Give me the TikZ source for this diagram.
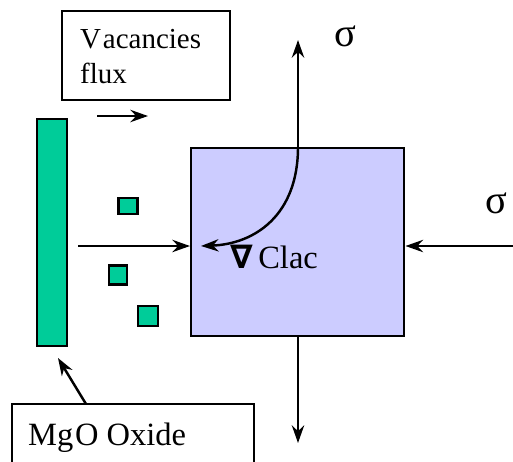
\documentclass[tikz,border=0pt]{standalone}
\usepackage{amsmath,amssymb}
\usepackage{fontspec}
\setmainfont{Liberation Serif}
\newfontfamily\serif{Liberation Serif}
\newfontfamily\symb{DejaVu Sans}
\usepackage{tikz}
\usetikzlibrary{positioning,calc,arrows.meta}
\usepackage{xcolor}
\definecolor{oxyde}{RGB}{0,204,153}
\definecolor{grain}{RGB}{204,204,255}

\begin{document}
\begin{tikzpicture}[x=0.02cm,y=-0.02cm,line width=1.4pt,
    boite/.style={rectangle,draw,inner sep=0pt},
    lacune/.style={rectangle,draw,fill=oxyde,inner sep=0pt},
    texte/.style={inner sep=0pt,font=\serif\fontsize{16.5}{19}\selectfont},
    grand/.style={inner sep=0pt,font=\serif\fontsize{18.5}{21}\selectfont},
    sigma/.style={inner sep=0pt,font=\serif\fontsize{23}{26}\selectfont},
    fleche/.style={-{Stealth[length=10pt,width=7pt]}}]

\useasboundingbox (0,0) rectangle (513,461);

% boites de texte
\node[boite,minimum width=168*0.02cm,minimum height=89*0.02cm,anchor=north west] (flux) at (61,10) {};
\node[texte,anchor=base west] (t1) at (79,48) {V\kern1pt acancies};
\node[texte,anchor=base west] (t2) at (79,83) {flux};

\node[boite,minimum width=242*0.02cm,minimum height=80*0.02cm,anchor=north west] (mgo) at (11,403) {};
\node[grand,anchor=base west] (t3) at (27,445) {Mg\kern1pt O Oxide};

% oxyde et lacunes
\node[lacune,minimum width=30*0.02cm,minimum height=227*0.02cm,anchor=north west] (barre) at (36,118) {};
\node[lacune,minimum width=19*0.02cm,minimum height=16*0.02cm] (l1) at (128,206) {};
\node[lacune,minimum width=18*0.02cm,minimum height=19*0.02cm] (l2) at (118,275) {};
\node[lacune,minimum width=20*0.02cm,minimum height=20*0.02cm] (l3) at (148,316) {};

% grain
\node[boite,fill=grain,minimum width=213*0.02cm,minimum height=188*0.02cm,anchor=north west] (grain) at (190,147) {};

\coordinate (haut) at (298,40);
\coordinate (bas) at (298,443);
\coordinate (droite) at (513,246);
\coordinate (gauche) at (78,246);
\coordinate (fa) at (97,116);
\coordinate (fb) at (148,116);
\coordinate (fin) at (201,246);
\coordinate (coin) at (86,404);
\coordinate (pointe) at (58,358);

\draw[fleche] (fa) -- (fb);
\draw[fleche] (gauche) -- (grain.west |- gauche);
\draw[fleche] (droite) -- (grain.east |- droite);
\draw[fleche] (grain.south -| bas) -- (bas);
\draw[fleche] (grain.north -| haut) -- (haut);
\draw[fleche] (grain.north -| haut) .. controls (298,215) and (255,244) .. (fin);
\draw[fleche] (coin) -- (pointe);

% contraintes
\node[sigma] (s1) at (345,36) {σ};
\node[sigma] (s2) at (496,203) {σ};
\node[grand,anchor=base west] (nabla) at (229,268) {{\symb\bfseries ∇}\,Clac};

\end{tikzpicture}
\end{document}
